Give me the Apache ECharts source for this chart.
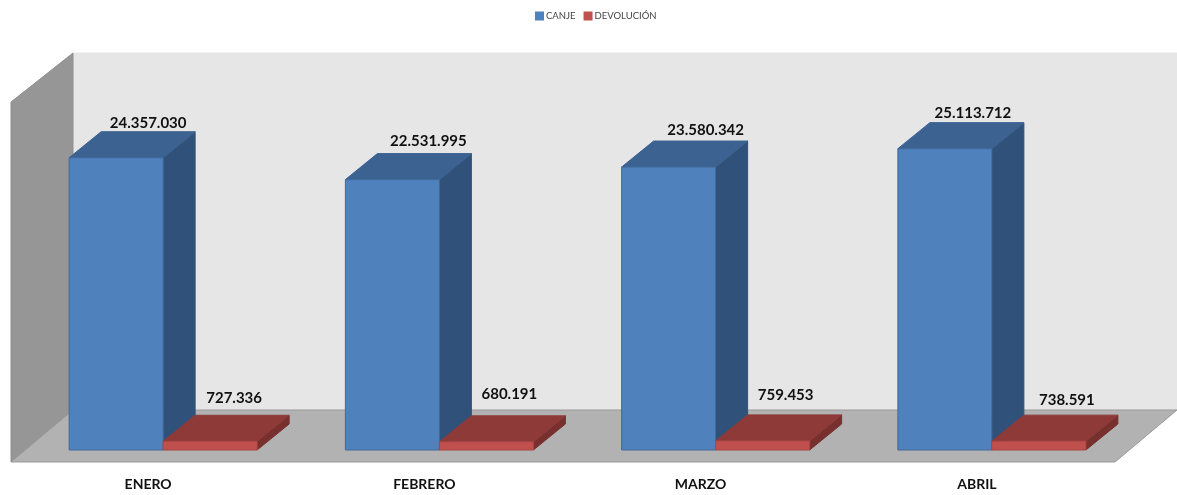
<!DOCTYPE html>
<html>
<head>
<meta charset="utf-8">
<style>
    html, body { margin: 0; padding: 0; background: #fff; }
    #chart { width: 1177px; height: 495px; }
</style>
<script src="https://cdn.jsdelivr.net/npm/echarts@6/dist/echarts.min.js"></script>
</head>
<body>
<div id="chart"></div>
<script>
    var meses = ['ENERO', 'FEBRERO', 'MARZO', 'ABRIL'];
    var canje = [24357030, 22531995, 23580342, 25113712];
    var devolucion = [727336, 680191, 759453, 738591];

    // los rotulos del original no estan centrados del todo, se ajustan a mano
    var nudgeCanje = [[0, 0], [4, -3], [5, -2], [-4, 0]];
    var nudgeDevolucion = [[-8, -8], [-9, -13], [-9, -11], [-4, -6]];

    var DEPTH_X = 32, DEPTH_Y = 26;  // fondo de las barras
    var BAR_W = 94;

    function puntos(n) {
        return String(n).replace(/\B(?=(\d{3})+$)/g, '.');
    }

    function poly(points, fill, stroke) {
        return {
            type: 'polygon',
            shape: { points: points },
            style: { fill: fill, stroke: stroke || fill, lineWidth: 1 }
        };
    }

    // paredes y suelo, salen del area del grid
    function renderWalls(params) {
        var g = params.coordSys;
        var bottom = g.y + g.height, right = g.x + g.width;
        var fx = g.x - 14, fy = bottom + 12;   // esquina delantera
        var bx = g.x + 48, by = bottom - 40;   // esquina trasera
        var top = g.y;
        return {
            type: 'group',
            children: [
                poly([[bx, top - 37], [right + 47, top - 37], [right + 47, by], [bx, by]], '#e6e6e6'),
                poly([[fx, top + 12], [bx, top - 37], [bx, by], [fx, fy]], '#969696', '#8f8f8f'),
                poly([[fx, fy], [right - 15, fy], [right + 47, by], [bx, by]], '#b2b2b2', '#999999')
            ]
        };
    }

    function renderBar(colors, side, nudges) {
        return function (params, api) {
            var i = api.value(0);
            var center = api.coord([i, 0])[0];
            var y0 = api.coord([i, 0])[1];
            var y1 = api.coord([i, api.value(1)])[1];
            var x0 = side < 0 ? center - BAR_W : center;
            var x1 = x0 + BAR_W;
            var nudge = nudges[i];
            return {
                type: 'group',
                children: [
                    poly([[x1, y1], [x1 + DEPTH_X, y1 - DEPTH_Y], [x1 + DEPTH_X, y0 - DEPTH_Y], [x1, y0]], colors.side),
                    poly([[x0, y1], [x0 + DEPTH_X, y1 - DEPTH_Y], [x1 + DEPTH_X, y1 - DEPTH_Y], [x1, y1]], colors.top),
                    poly([[x0, y1], [x1, y1], [x1, y0], [x0, y0]], colors.front, colors.edge),
                    {
                        type: 'text',
                        style: {
                            text: puntos(api.value(1)),
                            x: (x0 + x1) / 2 + DEPTH_X + nudge[0],
                            y: y1 - DEPTH_Y - 9 + nudge[1],
                            align: 'center',
                            verticalAlign: 'middle',
                            fill: '#111',
                            font: 'bold 15px Lato'
                        }
                    }
                ]
            };
        };
    }

    var azul = { front: '#4f81bd', top: '#3b6290', side: '#30527a', edge: '#41699b' };
    var rojo = { front: '#c0504d', top: '#8e3a38', side: '#77302e', edge: '#a84643' };

    var chart = echarts.init(document.getElementById('chart'));
    chart.setOption({
        animation: false,
        backgroundColor: '#fff',
        legend: {
            data: ['CANJE', 'DEVOLUCIÓN'],
            left: 530,
            top: 6,
            itemWidth: 9,
            itemHeight: 9,
            itemGap: 8,
            icon: 'rect',
            textStyle: { fontFamily: 'Lato', fontSize: 9.5, color: '#444', padding: [0, 0, 0, -3] }
        },
        grid: { left: 25, right: 47, top: 90, bottom: 45 },
        xAxis: {
            type: 'category',
            data: meses,
            axisLine: { show: false },
            axisTick: { show: false },
            axisLabel: {
                fontFamily: 'Lato',
                fontWeight: 'bold',
                fontSize: 14,
                color: '#111',
                margin: 27,
                padding: [0, 30, 0, 0]
            }
        },
        yAxis: { type: 'value', min: 0, max: 30000000, show: false },
        series: [
            {
                type: 'custom',
                silent: true,
                z: 1,
                data: [[0, 0]],
                renderItem: renderWalls
            },
            {
                name: 'CANJE',
                type: 'custom',
                z: 2,
                itemStyle: { color: azul.front },
                data: canje.map(function (v, i) { return [i, v]; }),
                renderItem: renderBar(azul, -1, nudgeCanje)
            },
            {
                name: 'DEVOLUCIÓN',
                type: 'custom',
                z: 3,
                itemStyle: { color: rojo.front },
                data: devolucion.map(function (v, i) { return [i, v]; }),
                renderItem: renderBar(rojo, 1, nudgeDevolucion)
            }
        ]
    });
</script>
</body>
</html>
